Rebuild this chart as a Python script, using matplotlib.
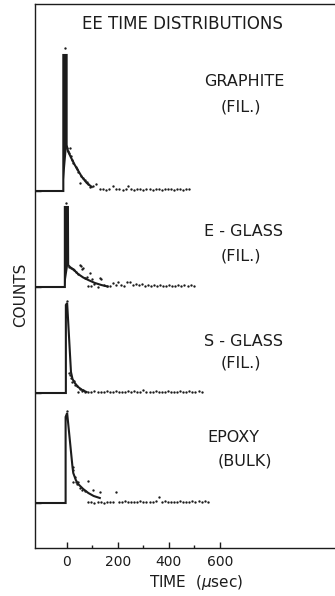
import matplotlib.pyplot as plt

# EE time distributions for four materials, counts vs time (usec)

names = ['GRAPHITE', 'E - GLASS', 'S - GLASS', 'EPOXY']
subnames = ['(FIL.)', '(FIL.)', '(FIL.)', '(BULK)']
baselines = [357, 261, 155, 45]

# fitted curves (time, counts above baseline)
graphite_fit_t = [-125, -14, -14, -1, -1, 4, 17, 31, 45, 59, 78, 98]
graphite_fit_n = [0, 0, 136, 136, 46, 40, 33, 26, 20, 14, 8, 4]
eglass_fit_t = [-125, -8, -8, 4, 5, 12, 28, 44, 64, 84, 110, 135, 160]
eglass_fit_n = [0, 0, 80, 80, 22, 20, 17, 13, 9.5, 7, 4, 2, 0.5]
sglass_fit_t = [-125, -4, -4, 1, 16, 22, 31, 44, 60, 77]
sglass_fit_n = [0, 0, 88, 90, 21, 14, 10, 6, 3, 1]
epoxy_fit_t = [-125, -5, -5, 1, 22, 25, 35, 44, 64, 84, 105, 129]
epoxy_fit_n = [0, 0, 86, 90, 36, 30, 23, 19, 14, 10, 7, 5]

# measured points
graphite_t = [-9, -1, 4, 8, 12, 16, 20, 25, 34, 38, 44, 51, 57, 64, 70, 77, 84, 90, 103, 116,
              128, 140, 152, 164, 182, 194, 206, 218, 230, 240, 252, 264, 276, 288, 300, 312,
              324, 336, 348, 360, 372, 384, 396, 408, 420, 432, 444, 456, 468, 480]
graphite_n = [143, 43, 40, 38, 43, 35, 31, 28, 24, 22, 19, 8, 15, 13, 11, 9, 7, 4, 5, 7,
              2, 2, 1, 2, 5, 2, 2, 1, 2, 5, 2, 1, 2, 2, 1, 2,
              2, 1, 2, 2, 1, 2, 2, 2, 1, 2, 2, 1, 2, 2]
eglass_t = [-2, 10, 16, 22, 28, 36, 44, 51, 55, 60, 64, 70, 77, 84, 90, 96, 97, 108, 123, 129,
            133, 146, 158, 169, 182, 192, 201, 214, 224, 236, 247, 260, 272, 283, 293, 305,
            317, 329, 341, 353, 365, 377, 389, 401, 413, 425, 437, 449, 461, 473, 485, 497]
eglass_n = [84, 20, 19, 18, 17, 15, 13, 22, 21, 18, 19, 9, 10, 1, 14, 1, 8, 3, 0, 9,
            8, 2, 1, 1, 4, 2, 5, 2, 1, 5, 5, 2, 3, 2, 3, 1,
            2, 1, 2, 1, 2, 1, 1, 2, 1, 1, 2, 1, 2, 1, 2, 1]
sglass_t = [1, 8, 12, 16, 21, 26, 30, 38, 42, 51, 60, 64, 72,
            84, 96, 108, 120, 132, 144, 156, 168, 180, 192, 204, 216, 228, 240, 252, 264,
            276, 288, 300, 312, 324, 336, 348, 360, 372, 384, 396, 408, 420, 432, 444, 456,
            468, 480, 492, 504, 516, 528]
sglass_n = [92, 20, 18, 15, 11, 12, 8, 7, 1, 4, 2, 3, 1,
            1, 1, 2, 1, 1, 1, 2, 1, 1, 2, 1, 1, 1, 2, 1, 2,
            1, 1, 3, 1, 1, 1, 2, 1, 1, 1, 2, 1, 1, 1, 2, 1,
            1, 2, 1, 1, 2, 1]
epoxy_t = [1, 22, 24, 25, 30, 34, 40, 44, 52, 60, 70, 81, 84, 96, 103, 108, 120, 129, 132, 144,
           156, 168, 180, 192, 204, 216, 228, 240, 252, 264, 276, 288, 300, 312, 324, 336,
           348, 360, 372, 384, 396, 408, 420, 432, 444, 456, 468, 480, 492, 504, 516, 528,
           540, 552]
epoxy_n = [92, 36, 33, 21, 26, 21, 19, 21, 15, 13, 12, 22, 1, 1, 13, 0.5, 1, 11, 1, 0.5,
           1, 1, 1, 11, 1, 1, 2, 1, 1, 1, 1, 2, 1, 1, 1, 1,
           2, 6, 1, 2, 1, 1, 1, 1, 2, 1, 1, 1, 2, 1, 2, 1,
           2, 1]

fits = [(graphite_fit_t, graphite_fit_n), (eglass_fit_t, eglass_fit_n),
        (sglass_fit_t, sglass_fit_n), (epoxy_fit_t, epoxy_fit_n)]
points = [(graphite_t, graphite_n), (eglass_t, eglass_n),
          (sglass_t, sglass_n), (epoxy_t, epoxy_n)]
filled_peak = [True, True, False, False]

ink = '#1c1c1c'

fig = plt.figure(figsize=(3.35, 5.96), dpi=100)
ax = fig.add_axes([35 / 335, 48 / 596, 1 - 35 / 335, 544 / 596])

for base, (ft, fn), (pt, pn), solid in zip(baselines, fits, points, filled_peak):
    yy = [base + v for v in fn]
    ax.plot(ft, yy, '-', color=ink, lw=1.5, solid_joinstyle='miter')
    if solid:
        # the narrow first-channel peak prints as a solid bar
        ax.fill(ft[1:5], yy[1:5], color=ink, lw=0)
    ax.plot(pt, [base + v for v in pn], 'o', color=ink, ms=1.7, mew=0)

ax.set_xlim(-125, 1051)
ax.set_ylim(0, 544)

ax.spines['right'].set_visible(False)
for side in ['left', 'top', 'bottom']:
    ax.spines[side].set_color(ink)
    ax.spines[side].set_linewidth(1.0)

ax.set_xticks([0, 200, 400, 600])
ax.set_xticks([100, 300, 500], minor=True)
ax.set_yticks(baselines)
ax.set_yticklabels([])
ax.tick_params(axis='both', which='major', direction='in', length=4, width=1.0, color=ink)
ax.tick_params(axis='x', which='minor', direction='in', length=2.5, width=1.0, color=ink)
ax.tick_params(axis='x', labelsize=10, pad=5, labelcolor=ink)

fig.text(182 / 335, 1 - 24 / 596, 'EE TIME DISTRIBUTIONS', ha='center', va='center',
         fontsize=12, color=ink)

name_y = [81, 232, 341, 437]
sub_y = [107, 256, 363, 461]
name_x = [204, 204, 204, 207]
sub_x = [221, 221, 221, 218]
for i in range(4):
    fig.text(name_x[i] / 335, 1 - name_y[i] / 596, names[i], ha='left', va='center',
             fontsize=11.5, color=ink)
    fig.text(sub_x[i] / 335, 1 - sub_y[i] / 596, subnames[i], ha='left', va='center',
             fontsize=11.5, color=ink)

fig.text(21 / 335, 1 - 295 / 596, 'COUNTS', rotation=90, ha='center', va='center',
         fontsize=11, color=ink)
fig.text(196 / 335, 1 - 582 / 596, r'TIME  ($\mu$sec)', ha='center', va='center',
         fontsize=11, color=ink)

fig.savefig('out.png', dpi=100)
